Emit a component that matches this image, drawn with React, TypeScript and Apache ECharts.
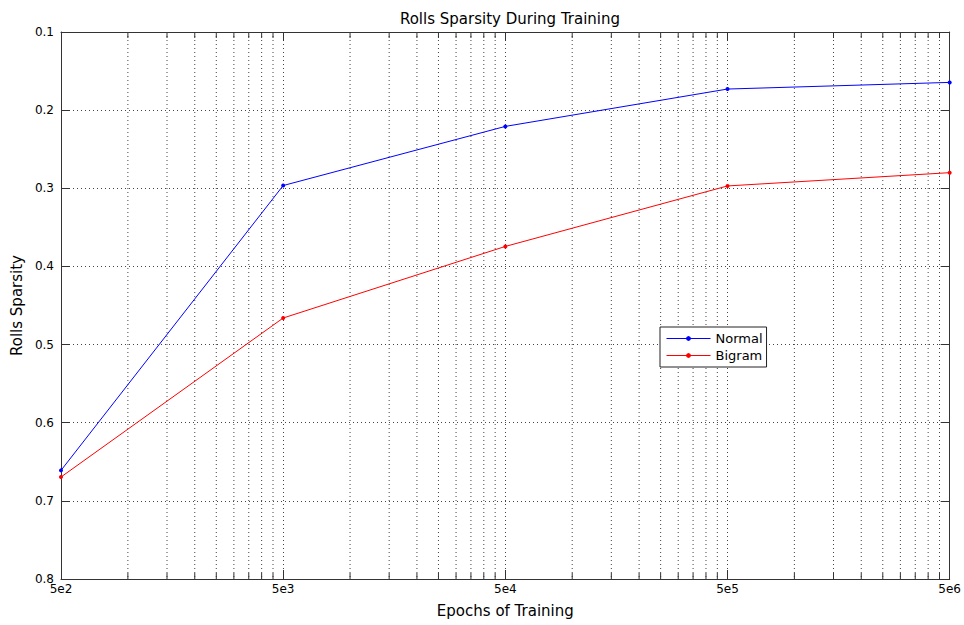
import React, { useEffect, useRef } from "react";
import * as echarts from "echarts";

const epochs = [500, 5000, 50000, 500000, 5000000];
const xTickLabels = ["5e2", "5e3", "5e4", "5e5", "5e6"];
const normalValues = [0.661, 0.2965, 0.2208, 0.173, 0.1645];
const bigramValues = [0.6695, 0.466, 0.3744, 0.297, 0.28];
const minorMultipliers = [2, 3, 4, 5, 6, 7, 8, 9];
const yTicks = [0.1, 0.2, 0.3, 0.4, 0.5, 0.6, 0.7, 0.8];

const toX = (e: number) => Math.log10(e / epochs[0]);

export default function App() {
  const ref = useRef<HTMLDivElement>(null);
  useEffect(() => {
    if (!ref.current) return;
    const chart = echarts.init(ref.current, null, { renderer: "svg" });
    const yMin = yTicks[0];
    const yMax = yTicks[yTicks.length - 1];
    const decades = epochs.length - 1;
    const minorData: number[][] = [];
    for (let d = 0; d < decades; d++) {
      for (const k of minorMultipliers) {
        minorData.push([toX(epochs[d] * k), (yMin + yMax) / 2]);
      }
    }
    const axisColor = "#333";
    const gridColor = "#444";
    const font = "'DejaVu Sans', 'Liberation Sans', Arial, sans-serif";
    const baseX = {
      type: "value",
      min: 0,
      max: decades,
      interval: 1,
      axisLine: { show: true, onZero: false, lineStyle: { color: axisColor, width: 1 } },
      axisTick: { show: true, inside: true, length: 9, lineStyle: { color: axisColor } },
    };
    const baseY = {
      type: "value",
      inverse: true,
      min: yMin,
      max: yMax,
      interval: 0.1,
      axisLine: { show: true, onZero: false, lineStyle: { color: axisColor, width: 1 } },
      axisTick: { show: true, inside: true, length: 9, lineStyle: { color: axisColor } },
    };
    chart.setOption({
      animation: false,
      backgroundColor: "#fff",
      textStyle: { fontFamily: font },
      title: {
        text: "Rolls Sparsity During Training",
        left: 505,
        top: 6,
        textAlign: "center",
        textStyle: { fontSize: 15, fontWeight: "normal", color: "#000", fontFamily: font },
      },
      grid: { left: 61, top: 32, width: 892, height: 547, containLabel: false },
      legend: {
        data: ["Normal", "Bigram"],
        left: 660,
        top: 327,
        orient: "vertical",
        backgroundColor: "#fff",
        borderColor: "#222",
        borderWidth: 1,
        borderRadius: 0,
        padding: [5, 4, 5, 6],
        itemGap: 4,
        itemWidth: 44,
        itemHeight: 6,
        lineStyle: { width: 1 },
        textStyle: { fontSize: 13, color: "#000", fontFamily: font },
      },
      xAxis: [
        {
          ...baseX,
          position: "bottom",
          name: "Epochs of Training",
          nameLocation: "middle",
          nameGap: 24,
          nameTextStyle: { fontSize: 15, color: "#000", fontFamily: font },
          axisLabel: {
            show: true,
            margin: 4,
            fontSize: 12,
            color: "#000",
            fontFamily: font,
            formatter: (v: number) => xTickLabels[Math.round(v)] ?? "",
          },
          splitLine: { show: true, lineStyle: { color: gridColor, type: [1, 3], width: 1 } },
        },
        {
          ...baseX,
          position: "top",
          axisLabel: { show: false },
          splitLine: { show: false },
        },
      ],
      yAxis: [
        {
          ...baseY,
          position: "left",
          name: "Rolls Sparsity",
          nameLocation: "middle",
          nameGap: 35,
          nameTextStyle: { fontSize: 15, color: "#000", fontFamily: font },
          axisLabel: {
            show: true,
            margin: 7,
            fontSize: 12,
            color: "#000",
            fontFamily: font,
            formatter: (v: number) => v.toFixed(1),
          },
          splitLine: { show: true, lineStyle: { color: gridColor, type: [1, 3], width: 1 } },
        },
        {
          ...baseY,
          position: "right",
          axisLabel: { show: false },
          splitLine: { show: false },
        },
      ],
      series: [
        {
          type: "custom",
          name: "minor",
          silent: true,
          xAxisIndex: 0,
          yAxisIndex: 0,
          z: 1,
          data: minorData,
          renderItem: (params: any, api: any) => {
            const xv = api.value(0);
            const top = api.coord([xv, yMin]);
            const bottom = api.coord([xv, yMax]);
            return {
              type: "group",
              children: [
                {
                  type: "line",
                  shape: { x1: top[0], y1: top[1], x2: bottom[0], y2: bottom[1] },
                  style: { stroke: gridColor, lineWidth: 1, lineDash: [1, 3] },
                },
                {
                  type: "line",
                  shape: { x1: top[0], y1: top[1], x2: top[0], y2: top[1] + 6 },
                  style: { stroke: axisColor, lineWidth: 1 },
                },
                {
                  type: "line",
                  shape: { x1: bottom[0], y1: bottom[1], x2: bottom[0], y2: bottom[1] - 6 },
                  style: { stroke: axisColor, lineWidth: 1 },
                },
              ],
            };
          },
        },
        {
          type: "line",
          name: "Normal",
          z: 3,
          data: epochs.map((e, i) => [toX(e), normalValues[i]]),
          symbol: "circle",
          symbolSize: 4,
          itemStyle: { color: "#0000ff" },
          lineStyle: { color: "#0000ff", width: 1 },
        },
        {
          type: "line",
          name: "Bigram",
          z: 3,
          data: epochs.map((e, i) => [toX(e), bigramValues[i]]),
          symbol: "circle",
          symbolSize: 4,
          itemStyle: { color: "#ff0000" },
          lineStyle: { color: "#ff0000", width: 1 },
        },
      ],
    });
    return () => chart.dispose();
  }, []);
  return (
    <div
      ref={ref}
      style={{ position: "fixed", left: 0, top: 0, width: 964, height: 625, background: "#fff" }}
    />
  );
}
